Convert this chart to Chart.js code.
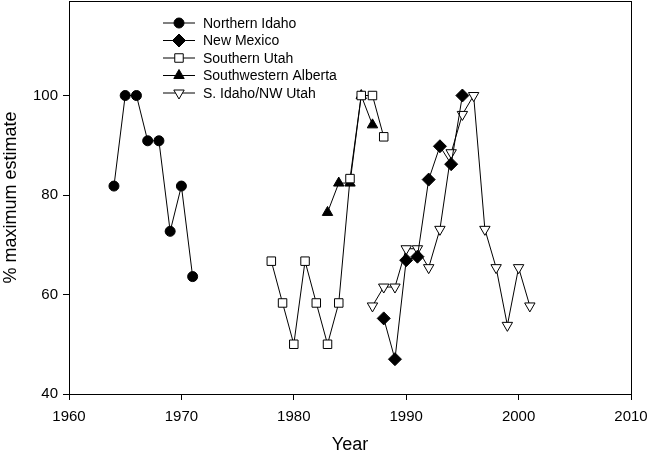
<!DOCTYPE html>
<html>
<head>
<meta charset="utf-8">
<script src="https://cdn.jsdelivr.net/npm/chart.js@4"></script>
<style>
  html, body { margin: 0; padding: 0; background: #fff; }
  #wrap { width: 650px; height: 454px; }
</style>
</head>
<body>
<div id="wrap"><canvas id="myChart"></canvas></div>
<script>
// Datos
const seriesNames = ['Northern Idaho', 'New Mexico', 'Southern Utah', 'Southwestern Alberta', 'S. Idaho/NW Utah'];

const idahoYears = [1964, 1965, 1966, 1967, 1968, 1969, 1970, 1971];
const idahoValues = [81.8, 100, 100, 90.9, 90.9, 72.7, 81.8, 63.6];

const mexicoYears = [1988, 1989, 1990, 1991, 1992, 1993, 1994, 1995];
const mexicoValues = [55.2, 47.0, 66.9, 67.6, 83.1, 89.8, 86.2, 100];

const utahYears = [1978, 1979, 1980, 1981, 1982, 1983, 1984, 1985, 1986, 1987, 1988];
const utahValues = [66.7, 58.3, 50, 66.7, 58.3, 50, 58.3, 83.3, 100, 100, 91.7];

const albertaYears = [1983, 1984, 1985, 1986, 1987];
const albertaValues = [76.5, 82.4, 82.4, 100, 94.1];

const sIdahoYears = [1987, 1988, 1989, 1990, 1991, 1992, 1993, 1994, 1995, 1996, 1997, 1998, 1999, 2000, 2001];
const sIdahoValues = [57.7, 61.5, 61.5, 69.2, 69.2, 65.4, 73.1, 88.5, 96.2, 100, 73.1, 65.4, 53.8, 65.4, 57.7];

const xTicks = [1960, 1970, 1980, 1990, 2000, 2010];
const yTicks = [40, 60, 80, 100];

const FONT = 'Liberation Sans, Arial, sans-serif';

function puntos(xs, ys) {
  return xs.map((x, i) => ({ x: x, y: ys[i] }));
}

function serie(label, xs, ys, style, fill, radius, rotation) {
  return {
    label: label,
    data: puntos(xs, ys),
    borderColor: '#000',
    borderWidth: 1,
    pointStyle: style,
    pointRadius: radius,
    pointHoverRadius: radius,
    pointRotation: rotation || 0,
    pointBackgroundColor: fill,
    pointBorderColor: '#000',
    pointBorderWidth: 1,
    showLine: true,
    tension: 0
  };
}

const datasets = [
  serie(seriesNames[0], idahoYears, idahoValues, 'circle', '#000', 5),
  serie(seriesNames[1], mexicoYears, mexicoValues, 'rectRot', '#000', 6.5),
  serie(seriesNames[2], utahYears, utahValues, 'rect', '#fff', 6),
  serie(seriesNames[3], albertaYears, albertaValues, 'triangle', '#000', 6),
  serie(seriesNames[4], sIdahoYears, sIdahoValues, 'triangle', '#fff', 6, 180)
];

// Marco superior/derecho y leyenda al estilo SigmaPlot
const marco = {
  id: 'marco',
  afterDraw(chart) {
    const ctx = chart.ctx;
    const a = chart.chartArea;
    ctx.save();
    ctx.strokeStyle = '#000';
    ctx.lineWidth = 1;
    ctx.strokeRect(a.left + 0.5, a.top + 0.5, a.right - a.left, a.bottom - a.top);

    ctx.font = '14px ' + FONT;
    ctx.textBaseline = 'middle';
    chart.data.datasets.forEach((ds, i) => {
      const y = 23 + i * 17.5;
      ctx.beginPath();
      ctx.moveTo(163, y);
      ctx.lineTo(195, y);
      ctx.stroke();
      ctx.fillStyle = ds.pointBackgroundColor;
      ctx.strokeStyle = '#000';
      Chart.helpers.drawPoint(ctx, {
        pointStyle: ds.pointStyle,
        radius: ds.pointRadius,
        rotation: ds.pointRotation,
        borderWidth: 1
      }, 179, y);
      ctx.fillStyle = '#000';
      ctx.fillText(ds.label, 203, y + 1);
    });
    ctx.restore();
  }
};

const ctx = document.getElementById('myChart').getContext('2d');
const myChart = new Chart(ctx, {
  type: 'scatter',
  data: { datasets: datasets },
  options: {
    responsive: true,
    maintainAspectRatio: false,
    animation: false,
    layout: { autoPadding: false, padding: { top: 1, right: 19, left: 0, bottom: 0 } },
    plugins: {
      legend: { display: false },
      tooltip: { enabled: false }
    },
    scales: {
      x: {
        type: 'linear',
        min: 1960,
        max: 2010,
        afterBuildTicks: s => { s.ticks = xTicks.map(v => ({ value: v })); },
        afterFit: s => { s.height = 60; s.paddingLeft = 0; s.paddingRight = 0; },
        grid: { drawOnChartArea: false, drawTicks: true, tickLength: 6, color: '#000' },
        border: { color: '#000', width: 1 },
        ticks: {
          color: '#000',
          padding: 8,
          font: { family: FONT, size: 15 },
          callback: v => String(v)
        },
        title: {
          display: true,
          text: 'Year',
          color: '#000',
          font: { family: FONT, size: 18, lineHeight: 1 },
          padding: { top: 0, bottom: 0 }
        }
      },
      y: {
        min: 40,
        max: 119,
        afterBuildTicks: s => { s.ticks = yTicks.map(v => ({ value: v })); },
        afterFit: s => { s.width = 69; s.paddingTop = 0; s.paddingBottom = 0; },
        grid: { drawOnChartArea: false, drawTicks: true, tickLength: 6, color: '#000' },
        border: { color: '#000', width: 1 },
        ticks: { color: '#000', padding: 5, font: { family: FONT, size: 15, lineHeight: 0.2 } },
        title: {
          display: true,
          text: '% maximum estimate',
          color: '#000',
          font: { family: FONT, size: 18, lineHeight: 1 },
          padding: { top: 2, bottom: 0 }
        }
      }
    }
  },
  plugins: [marco]
});
</script>
</body>
</html>
